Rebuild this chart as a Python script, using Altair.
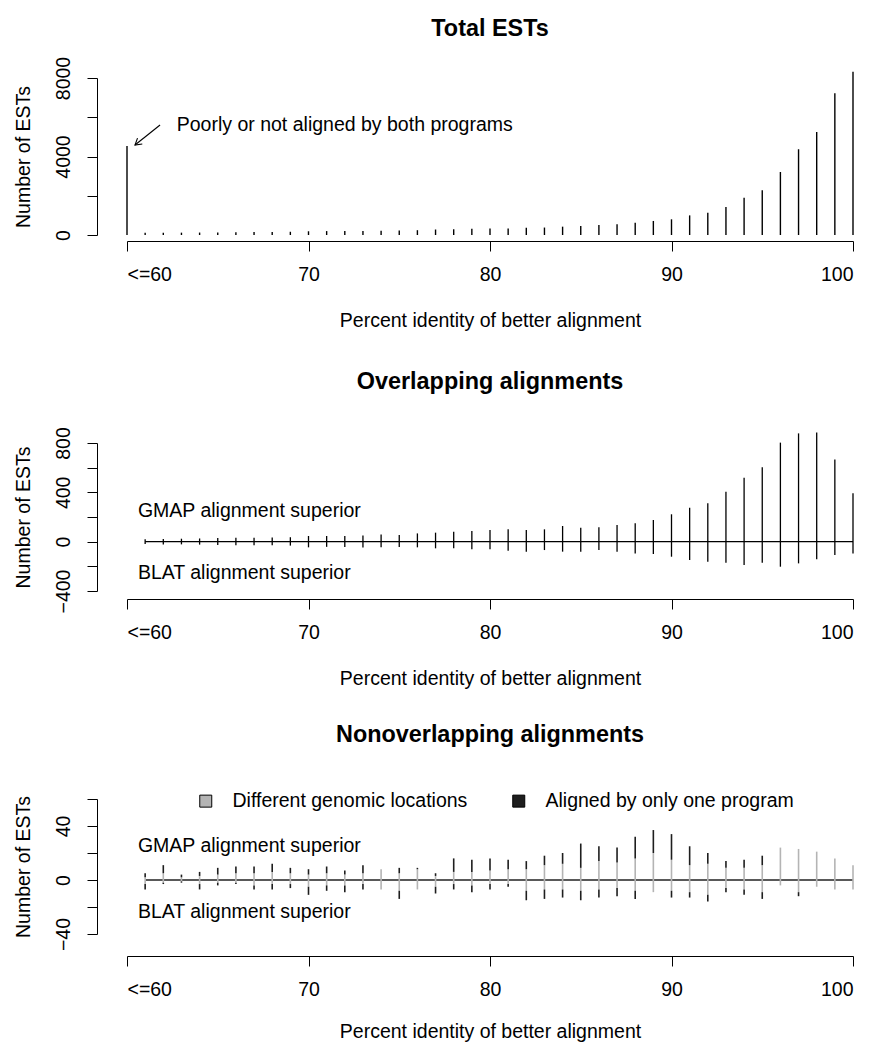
import altair as alt
import pandas as pd

FONT = "Liberation Sans"
FS = 19.5

# ---------------- data ----------------
pct = list(range(61, 101))
low_pct = 60
low_total = 4540
total_ests = [110, 115, 120, 125, 130, 140, 150, 155, 165, 190,
              200, 205, 210, 215, 235, 245, 280, 290, 315, 325,
              330, 365, 380, 425, 460, 510, 545, 630, 715, 800,
              1000, 1140, 1430, 1900, 2280, 3210, 4370, 5250, 7220, 8320]

ov_gmap = [19, 22, 24, 26, 30, 32, 32, 34, 36, 46,
           46, 46, 50, 59, 54, 67, 73, 81, 86, 94,
           100, 95, 100, 127, 113, 116, 135, 149, 176, 222,
           276, 311, 405, 519, 603, 803, 878, 886, 667, 392]
ov_blat = [19, 22, 22, 24, 28, 30, 30, 30, 32, 46,
           42, 44, 48, 46, 44, 46, 54, 54, 62, 62,
           73, 81, 68, 81, 81, 68, 81, 95, 100, 122,
           149, 162, 170, 189, 170, 203, 176, 143, 108, 95]

gmap_diff = [2, 5, 2, 3, 4, 5, 5, 6, 5, 4,
             5, 4, 5, 8, 5, 8, 3, 6, 6, 7,
             8, 8, 11, 12, 9, 14, 13, 16, 20, 15,
             11, 12, 9, 9, 11, 24, 23, 21, 16, 11]
gmap_one = [3, 6, 2, 3, 5, 5, 5, 6, 4, 4,
            5, 3, 6, 0, 4, 1, 2, 10, 9, 9,
            7, 6, 7, 8, 18, 11, 11, 16, 17, 19,
            14, 8, 5, 6, 7, 0, 0, 0, 0, 0]
blat_diff = [3, 2, 1, 3, 2, 2, 4, 3, 3, 5,
             4, 4, 3, 7, 8, 7, 5, 3, 4, 3,
             3, 8, 7, 7, 8, 7, 6, 8, 9, 8,
             9, 11, 6, 7, 9, 4, 9, 5, 7, 7]
blat_one = [4, 1, 1, 4, 2, 1, 3, 4, 3, 6,
            4, 5, 4, 0, 6, 0, 5, 4, 5, 4,
            2, 7, 7, 6, 7, 6, 6, 6, 0, 5,
            4, 5, 3, 4, 5, 0, 3, 0, 0, 0]

x_ticks = [60, 70, 80, 90, 100]
x_title = "Percent identity of better alignment"
y_title = "Number of ESTs"
cat_diff = "Different genomic locations"
cat_one = "Aligned by only one program"
gray = "#b4b4b4"
dark = "#1e1e1e"

W = 726
H1, H2, H3 = 157, 148, 135


def xenc(offset, field="pct:Q", tpad=28):
    return alt.X(field, scale=alt.Scale(domain=[60, 100], nice=False, zero=False, padding=0),
                 axis=alt.Axis(values=x_ticks, offset=offset, title=x_title,
                               labelExpr="datum.value == 60 ? '<=60' : datum.label",
                               labelPadding=14, titlePadding=tpad))


def yenc(domain, values, step, field="n:Q"):
    return alt.Y(field, scale=alt.Scale(domain=domain, nice=False, zero=False),
                 axis=alt.Axis(values=values, offset=30, title=y_title, format="d",
                               labelExpr=f"datum.value % {step} == 0 ? datum.label : ''",
                               labelAngle=270, labelAlign="center", labelBaseline="bottom",
                               labelPadding=14, titlePadding=20))


# ---------------- panel 1 ----------------
df1 = pd.DataFrame({"pct": [low_pct] + pct, "n": [low_total] + total_ests})
x1 = xenc(6)
y1dom = [0, 8000]
y1vals = [0, 2000, 4000, 6000, 8000]
y1 = yenc(y1dom, y1vals, 4000)
bars1 = alt.Chart(df1).mark_rule(color="black", strokeWidth=1.4).encode(
    x=x1, y=y1, y2=alt.datum(0))

note = pd.DataFrame({"pct": [62.74], "n": [5300], "txt": ["Poorly or not aligned by both programs"]})
note_t = alt.Chart(note).mark_text(align="left", baseline="alphabetic", font=FONT,
                                   fontSize=FS, color="black").encode(x=x1, y=y1, text="txt:N")
arrow = pd.DataFrame({"pct": [61.82], "n": [5605], "pct2": [60.44], "n2": [4586]})
arrow_l = alt.Chart(arrow).mark_rule(color="black", strokeWidth=1.1).encode(
    x=x1, y=y1, x2="pct2:Q", y2="n2:Q")
arrow_h = alt.Chart(arrow).mark_point(shape="M-1,-0.6L0,0L-1,0.6", filled=False, size=160,
                                      angle=141, color="black", strokeWidth=1.1, opacity=1).encode(
    x=xenc(6, "pct2:Q"), y=yenc(y1dom, y1vals, 4000, "n2:Q"))

p1 = alt.layer(bars1, note_t, arrow_l, arrow_h).properties(
    width=W, height=H1, title=alt.Title("Total ESTs", offset=15))

# ---------------- panel 2 ----------------
df2 = pd.DataFrame({"pct": pct, "n": ov_gmap, "n2": [-v for v in ov_blat]})
x2 = xenc(8)
y2 = yenc([-400, 800], [-400, -200, 0, 200, 400, 600, 800], 400)
bars2 = alt.Chart(df2).mark_rule(color="black", strokeWidth=1.3).encode(x=x2, y=y2, y2="n2:Q")
zero2 = alt.Chart(pd.DataFrame({"pct": [pct[0]], "pct2": [pct[-1]], "n": [0]})).mark_rule(
    color="black", strokeWidth=1.3).encode(x=x2, x2="pct2:Q", y=y2)
lab2 = pd.DataFrame({"pct": [60.6, 60.6], "n": [252, -255],
                     "txt": ["GMAP alignment superior", "BLAT alignment superior"]})
lab2_t = alt.Chart(lab2).mark_text(align="left", baseline="middle", font=FONT, fontSize=FS,
                                   color="black").encode(x=x2, y=y2, text="txt:N")
p2 = alt.layer(bars2, zero2, lab2_t).properties(
    width=W, height=H2, title=alt.Title("Overlapping alignments", offset=32))

# ---------------- panel 3 ----------------
rows = []
for i, p in enumerate(pct):
    rows.append((p, 0, gmap_diff[i], cat_diff))
    rows.append((p, gmap_diff[i], gmap_diff[i] + gmap_one[i], cat_one))
    rows.append((p, 0, -blat_diff[i], cat_diff))
    rows.append((p, -blat_diff[i], -(blat_diff[i] + blat_one[i]), cat_one))
df3 = pd.DataFrame(rows, columns=["pct", "n", "n2", "type"])
df3 = df3[df3["n"] != df3["n2"]]
x3 = xenc(22, tpad=24)
y3 = yenc([-40, 60], [-40, -20, 0, 20, 40, 60], 40)
cscale = alt.Scale(domain=[cat_diff, cat_one], range=[gray, dark])
zero3 = alt.Chart(pd.DataFrame({"pct": [pct[0]], "pct2": [pct[-1]], "n": [0]})).mark_rule(
    color="#222222", strokeWidth=1.3).encode(x=x3, x2="pct2:Q", y=y3)
bars3 = alt.Chart(df3).mark_bar(size=1.6).encode(
    x=x3, y=y3, y2="n2:Q",
    color=alt.Color("type:N", scale=cscale,
                    legend=alt.Legend(orient="none", legendX=69, legendY=-8, direction="horizontal",
                                      title=None, symbolType="square", symbolSize=144,
                                      symbolOpacity=1, symbolStrokeColor="black",
                                      symbolStrokeWidth=1, labelLimit=0,
                                      labelFontSize=FS, labelFont=FONT, labelColor="black",
                                      labelOffset=17, columnPadding=41, padding=0)))
lab3 = pd.DataFrame({"pct": [60.6, 60.6], "n": [25.5, -24],
                     "txt": ["GMAP alignment superior", "BLAT alignment superior"]})
lab3_t = alt.Chart(lab3).mark_text(align="left", baseline="middle", font=FONT, fontSize=FS,
                                   color="black").encode(x=x3, y=y3, text="txt:N")
p3 = alt.layer(zero3, bars3, lab3_t).properties(
    width=W, height=H3, title=alt.Title("Nonoverlapping alignments", offset=44))

chart = alt.vconcat(p1, p2, p3, spacing=208, bounds="flush").resolve_scale(
    color="independent").resolve_legend(color="independent").properties(
    padding={"left": 5, "top": 8, "right": 5, "bottom": 5}
).configure_view(stroke=None).configure_axis(
    grid=False, domainColor="black", tickColor="black", labelColor="black", titleColor="black",
    labelFont=FONT, titleFont=FONT, labelFontSize=FS, titleFontSize=FS, titleFontWeight="normal",
    tickSize=10, domainWidth=1, tickWidth=1
).configure_title(font=FONT, fontSize=23.4, fontWeight="bold", color="black", anchor="middle")

chart.save("out.html", embed_options={"renderer": "svg", "actions": False})
